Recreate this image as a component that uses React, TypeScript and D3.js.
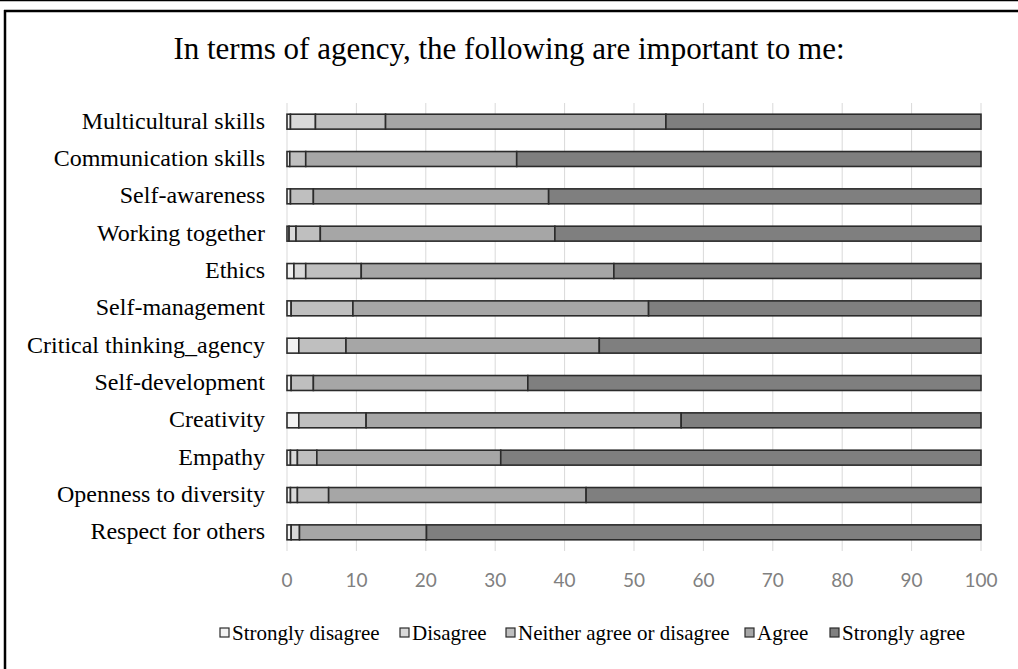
import React from 'react'
import * as d3 from 'd3'

const categories = [
  'Multicultural skills',
  'Communication skills',
  'Self-awareness',
  'Working together',
  'Ethics',
  'Self-management',
  'Critical thinking_agency',
  'Self-development',
  'Creativity',
  'Empathy',
  'Openness to diversity',
  'Respect for others',
]

const stronglyDisagree = [0.5, 0.4, 0.5, 0.3, 1.0, 0.6, 1.7, 0.6, 1.7, 0.5, 0.5, 0.6]
const disagree = [3.6, 0, 0, 1.0, 1.7, 0, 0, 0, 0, 1.0, 1.0, 1.2]
const neither = [10.1, 2.3, 3.3, 3.5, 8.0, 8.9, 6.8, 3.2, 9.7, 2.8, 4.5, 0]
const agree = [40.4, 30.4, 33.9, 33.8, 36.4, 42.6, 36.5, 30.9, 45.4, 26.5, 37.1, 18.3]
const stronglyAgree = [45.4, 66.9, 62.3, 61.4, 52.9, 47.9, 55.0, 65.3, 43.2, 69.2, 56.9, 79.9]

const seriesNames = [
  'Strongly disagree',
  'Disagree',
  'Neither agree or disagree',
  'Agree',
  'Strongly agree',
]
const seriesColors = ['#f2f2f2', '#d9d9d9', '#bfbfbf', '#a6a6a6', '#7f7f7f']
const xTicks = [0, 10, 20, 30, 40, 50, 60, 70, 80, 90, 100]

const W = 1018
const H = 669

const App = () => {
  const rows = categories.map((c, i) => ({
    category: c,
    s0: stronglyDisagree[i],
    s1: disagree[i],
    s2: neither[i],
    s3: agree[i],
    s4: stronglyAgree[i],
  }))
  const keys = ['s0', 's1', 's2', 's3', 's4']
  const stacked = d3.stack<any>().keys(keys)(rows)

  const x = d3.scaleLinear().domain([0, 100]).range([287, 981])
  const y = d3
    .scaleBand()
    .domain(categories)
    .range([103, 551])
    .paddingInner(0.6)
    .paddingOuter(0.3)

  // legend item start positions
  const legendX = [220, 400, 506, 745, 830]

  return (
    <div style={{ position: 'absolute', left: 0, top: 0 }}>
      <svg width={W} height={H} style={{ display: 'block', background: '#fff' }}>
        {/* frame */}
        <line x1={0} x2={W} y1={0.5} y2={0.5} stroke="#000" strokeWidth={1.5} />
        <line x1={4} x2={W} y1={11} y2={11} stroke="#000" strokeWidth={2.5} />
        <line x1={5} x2={5} y1={10} y2={H} stroke="#000" strokeWidth={2.5} />

        <text
          x={509}
          y={59}
          textAnchor="middle"
          fontFamily="'Liberation Serif', 'Times New Roman', serif"
          fontSize={31}
          fill="#000"
        >
          In terms of agency, the following are important to me:
        </text>

        {/* gridlines */}
        {xTicks.map((t) => (
          <line
            key={t}
            x1={x(t)}
            x2={x(t)}
            y1={103}
            y2={551}
            stroke="#d9d9d9"
            strokeWidth={1}
          />
        ))}

        {/* bars */}
        {stacked.map((layer, li) =>
          layer.map((d, i) => {
            const v = d[1] - d[0]
            if (v <= 0) return null
            return (
              <rect
                key={`${li}-${i}`}
                x={x(d[0])}
                y={y(categories[i])}
                width={x(d[1]) - x(d[0])}
                height={y.bandwidth()}
                fill={seriesColors[li]}
                stroke="#2b2b2b"
                strokeWidth={1.6}
              />
            )
          }),
        )}

        {/* category labels */}
        {categories.map((c) => (
          <text
            key={c}
            x={265}
            y={(y(c) as number) + y.bandwidth() / 2 + 7}
            textAnchor="end"
            fontFamily="'Liberation Serif', 'Times New Roman', serif"
            fontSize={24}
            fill="#000"
          >
            {c}
          </text>
        ))}

        {/* x tick labels */}
        {xTicks.map((t) => (
          <text
            key={t}
            x={x(t)}
            y={587}
            textAnchor="middle"
            fontFamily="Lato, 'Open Sans', sans-serif"
            fontSize={19}
            fill="#808080"
          >
            {t}
          </text>
        ))}

        {/* legend */}
        {seriesNames.map((n, i) => (
          <g key={n} transform={`translate(${legendX[i]},633)`}>
            <rect x={0} y={-5} width={9} height={9} fill={seriesColors[i]} stroke="#2b2b2b" strokeWidth={1.2} />
            <text
              x={12}
              y={7}
              fontFamily="'Liberation Serif', 'Times New Roman', serif"
              fontSize={21}
              fill="#000"
            >
              {n}
            </text>
          </g>
        ))}
      </svg>
    </div>
  )
}

export default App
